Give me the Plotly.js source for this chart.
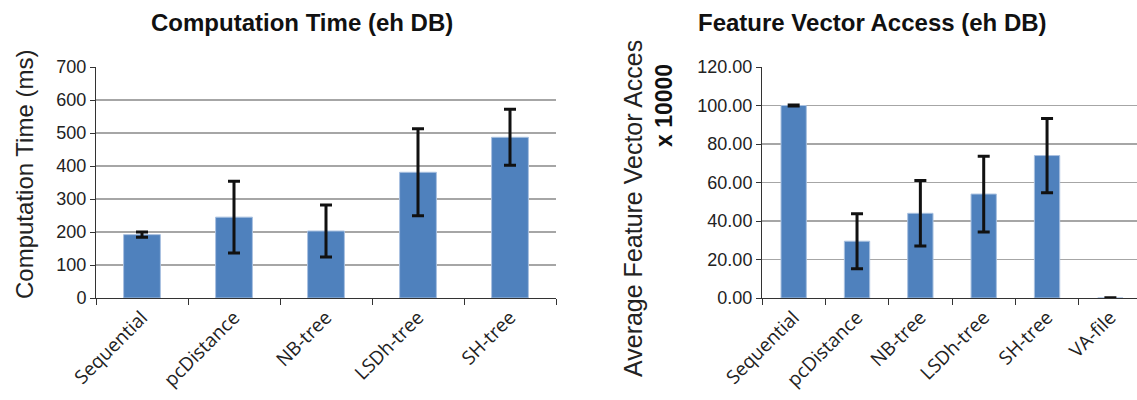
<!DOCTYPE html>
<html>
<head>
<meta charset="utf-8">
<script src="https://cdn.plot.ly/plotly-3.0.1.min.js"></script>
<style>html,body{margin:0;padding:0;background:#fff;}#chart{width:1137px;height:400px;}</style>
</head>
<body>
<div id="chart"></div>
<script>
// Left chart: Computation Time (ms)
const timeCategories = ["Sequential", "pcDistance", "NB-tree", "LSDh-tree", "SH-tree"];
const timeValues = [192, 245, 203, 381, 487];
const timeErrors = [8, 109, 79, 132, 85];

// Right chart: Average Feature Vector Access x 10000
const accessCategories = ["Sequential", "pcDistance", "NB-tree", "LSDh-tree", "SH-tree", "VA-file"];
const accessValues = [100, 29.5, 44, 54, 74, 0];
const accessErrors = [0.2, 14.3, 17, 19.7, 19.3, 0.1];

const timeTicks = [0, 100, 200, 300, 400, 500, 600, 700];
const accessTicks = [0, 20, 40, 60, 80, 100, 120];

const barColor = "#4F81BD";
const errStyle = {type: "data", visible: true, color: "#111111", thickness: 3, width: 6};

const traces = [
  {
    type: "bar", x: timeCategories, y: timeValues, xaxis: "x", yaxis: "y",
    marker: {color: barColor, line: {color: "#a9c1e0", width: 1}},
    error_y: Object.assign({array: timeErrors}, errStyle),
    hoverinfo: "none"
  },
  {
    type: "bar", x: accessCategories, y: accessValues, xaxis: "x2", yaxis: "y2",
    marker: {color: barColor, line: {color: "#a9c1e0", width: 1}},
    error_y: Object.assign({array: accessErrors}, errStyle),
    hoverinfo: "none"
  }
];

const tickFont = {family: "Liberation Sans, Arial, sans-serif", size: 18, color: "#222"};
const catFont = {family: "Open Sans, Noto Sans, sans-serif", size: 19, color: "#222"};
const H = 400, W = 1137;
const yDom = [1 - 298 / H, 1 - 67 / H];

const layout = {
  width: W, height: H,
  margin: {l: 0, r: 0, t: 0, b: 0},
  paper_bgcolor: "#fff", plot_bgcolor: "#fff",
  showlegend: false,
  bargap: 0.6,
  xaxis: {
    domain: [96 / W, 556 / W], type: "category", range: [-0.5, 4.5],
    tickangle: -45, tickfont: catFont, tickson: "boundaries",
    ticks: "outside", ticklen: 6, tickcolor: "#333", tickwidth: 1,
    showline: true, linecolor: "#333", linewidth: 1, showgrid: false, fixedrange: true
  },
  yaxis: {
    domain: yDom, range: [0, 700], tickvals: timeTicks, ticktext: timeTicks.map(String),
    tickfont: tickFont, ticks: "outside", ticklen: 5, tickcolor: "#333",
    showline: true, linecolor: "#333", linewidth: 1,
    showgrid: true, gridcolor: "#a6a6a6", gridwidth: 1.3, zeroline: false, fixedrange: true
  },
  xaxis2: {
    domain: [762 / W, 1], type: "category", range: [-0.5, 5.42], anchor: "y2",
    tickangle: -45, tickfont: catFont, tickson: "boundaries",
    ticks: "outside", ticklen: 6, tickcolor: "#333", tickwidth: 1,
    showline: true, linecolor: "#333", linewidth: 1, showgrid: false, fixedrange: true
  },
  yaxis2: {
    domain: yDom, range: [0, 120], anchor: "x2", tickvals: accessTicks,
    ticktext: accessTicks.map(v => v.toFixed(2)),
    tickfont: tickFont, ticks: "outside", ticklen: 5, tickcolor: "#333",
    showline: true, linecolor: "#333", linewidth: 1,
    showgrid: true, gridcolor: "#a6a6a6", gridwidth: 1.3, zeroline: false, fixedrange: true
  },
  annotations: [
    {text: "<b>Computation Time (eh DB)</b>", xref: "paper", yref: "paper",
     x: 302 / W, y: 1 - 22 / H, xanchor: "center", yanchor: "middle", showarrow: false,
     font: {family: "Liberation Sans, Arial, sans-serif", size: 24, color: "#111"}},
    {text: "<b>Feature Vector Access (eh DB)</b>", xref: "paper", yref: "paper",
     x: 872 / W, y: 1 - 22 / H, xanchor: "center", yanchor: "middle", showarrow: false,
     font: {family: "Liberation Sans, Arial, sans-serif", size: 24, color: "#111"}},
    {text: "Computation Time (ms)", xref: "paper", yref: "paper",
     x: 24 / W, y: 1 - 175 / H, xanchor: "center", yanchor: "middle", showarrow: false,
     textangle: -90, font: {family: "Liberation Sans, Arial, sans-serif", size: 24, color: "#222"}},
    {text: "Average Feature Vector Acces", xref: "paper", yref: "paper",
     x: 633 / W, y: 1 - 209 / H, xanchor: "center", yanchor: "middle", showarrow: false,
     textangle: -90, font: {family: "Liberation Sans, Arial, sans-serif", size: 25, color: "#222"}},
    {text: "<b>x 10000</b>", xref: "paper", yref: "paper",
     x: 664 / W, y: 1 - 106 / H, xanchor: "center", yanchor: "middle", showarrow: false,
     textangle: -90, font: {family: "Liberation Sans, Arial, sans-serif", size: 23, color: "#111"}}
  ]
};

Plotly.newPlot("chart", traces, layout, {displayModeBar: false, staticPlot: true});
</script>
</body>
</html>
